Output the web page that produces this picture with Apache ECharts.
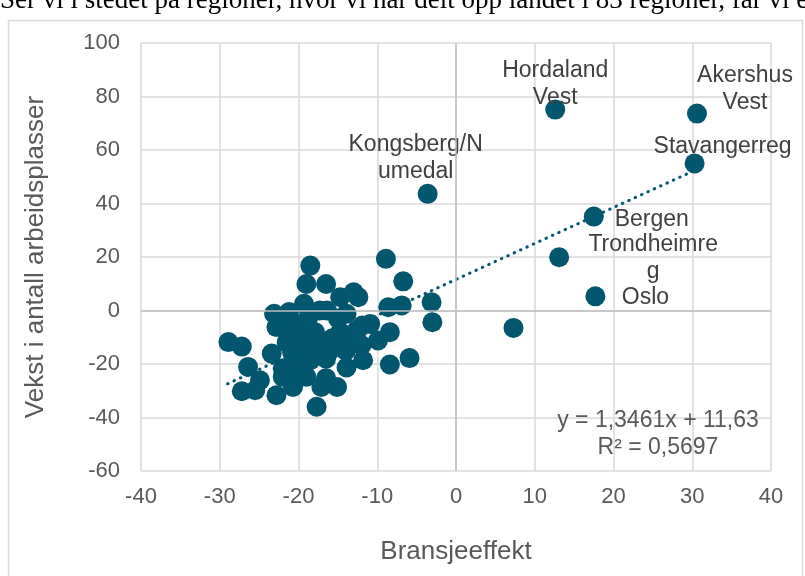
<!DOCTYPE html>
<html>
<head>
<meta charset="utf-8">
<script src="https://cdn.jsdelivr.net/npm/echarts@6/dist/echarts.min.js"></script>
<style>html,body{margin:0;padding:0;background:#fff;}#c{width:805px;height:576px;}</style>
</head>
<body>
<div id="c"></div>
<script>
// Unlabeled regions [Bransjeeffekt, Vekst]
const pointsX = [-28.9,-27.2,-26.4,-27.2,-25.5,-24.9,-23.4,-23.1,-22.8,-22.8,-22.0,-22.0,-21.2,-21.1,-21.3,-20.8,-20.7,-20.4,-20.4,-19.8,-19.0,-19.3,-19.0,-18.5,-18.8,-18.5,-18.5,-18.2,-17.7,-17.9,-17.8,-17.3,-17.1,-16.5,-16.4,-16.5,-16.0,-15.7,-15.1,-14.7,-14.7,-13.9,-13.9,-13.2,-13.0,-12.4,-12.6,-12.7,-11.8,-11.9,-10.9,-9.9,-8.9,-8.6,-8.4,-8.4,-6.9,-6.7,-5.9,-3.1,-3.0,7.3,-20.0,-19.5,-15.0,-14.0,-16.5,-12.0,-21.5,-19.5];
const pointsY = [-11.8,-13.5,-21.1,-30.2,-29.8,-26.1,-16.1,-1.2,-6.2,-31.7,-24.8,-21.6,-0.6,-5.6,-10.0,-15.6,-28.6,-22.3,-18.6,-13.4,-24.8,2.5,9.9,16.8,-3.0,-10.4,-18.6,-14.9,-36.0,-8.1,-11.5,0.0,-28.6,9.9,0.0,-25.3,-14.9,-10.4,-28.6,5.0,-8.1,-1.2,-21.3,-11.2,6.8,5.0,-7.4,-9.7,-18.6,-5.6,-5.0,-11.2,19.3,1.2,-8.1,-20.2,1.9,10.9,-17.8,3.1,-4.4,-6.5,-8.0,-5.0,-3.0,-15.0,-18.0,-13.0,-12.0,-20.0];
// Labeled regions
const labelNames = ["Kongsberg/N\numedal","Hordaland\nVest","Akershus\nVest","Stavangerreg","Bergen","Trondheimre\ng","Oslo"];
const labelX = [-3.6, 12.6, 30.6, 30.3, 17.5, 13.1, 17.7];
const labelY = [43.6, 75.1, 73.6, 55.0, 35.1, 19.9, 5.3];
// Trendline endpoints (y = 1,3461x + 11,63)
const trendX = [-29.0, 30.4];
const trendY = [-27.4, 52.5];
const xTicks = {min: -40, max: 40, interval: 10};
const yTicks = {min: -60, max: 100, interval: 20};

const labelOffsets = [[-12,-36],[0,-25],[48,-24],[28,-17],[58,3],[94,1],[50,1]];
const col = '#02566d';
const chart = echarts.init(document.getElementById('c'), null, {renderer: 'canvas'});
const ff = '"Liberation Sans", Arial, sans-serif';

const scatterData = pointsX.map((x, i) => [x, pointsY[i]]);
const labeledData = labelNames.map((n, i) => ({
  name: n,
  value: [labelX[i], labelY[i]],
  label: {show: true, position: 'inside', offset: labelOffsets[i], formatter: n,
          align: 'center', verticalAlign: 'middle', color: '#404040', fontSize: 23,
          fontFamily: ff, lineHeight: 27}
}));

chart.setOption({
  animation: false,
  backgroundColor: '#fff',
  graphic: [
    {type: 'rect', shape: {x: 8.5, y: 20.5, width: 794, height: 570}, style: {fill: 'none', stroke: '#d9d9d9', lineWidth: 1.5}, z: -10},
    {type: 'text', x: 0, y: 14, style: {text: 'Ser vi i stedet på regioner, hvor vi har delt opp landet i 83 regioner, får vi et', font: '27px "Liberation Serif", "Times New Roman", serif', fill: '#000', verticalAlign: 'bottom'}},
    {type: 'text', x: 658, y: 421, style: {text: 'y = 1,3461x + 11,63', font: '23px ' + ff, fill: '#595959', align: 'center', verticalAlign: 'middle'}, z: 10},
    {type: 'text', x: 658, y: 448, style: {text: 'R² = 0,5697', font: '23px ' + ff, fill: '#595959', align: 'center', verticalAlign: 'middle'}, z: 10}
  ],
  grid: {left: 141, right: 34, top: 43, bottom: 105, containLabel: false},
  xAxis: {
    type: 'value', min: xTicks.min, max: xTicks.max, interval: xTicks.interval,
    name: 'Bransjeeffekt', nameLocation: 'middle', nameGap: 68,
    nameTextStyle: {fontSize: 26, color: '#595959', fontFamily: ff},
    axisLine: {show: false}, axisTick: {show: false},
    axisLabel: {fontSize: 22, color: '#595959', fontFamily: ff, margin: 15},
    splitLine: {show: true, lineStyle: {color: '#d9d9d9', width: 1.5}}
  },
  yAxis: {
    type: 'value', min: yTicks.min, max: yTicks.max, interval: yTicks.interval,
    name: 'Vekst i antall arbeidsplasser', nameLocation: 'middle', nameGap: 92,
    nameTextStyle: {fontSize: 26, color: '#595959', fontFamily: ff},
    axisLine: {show: false}, axisTick: {show: false},
    axisLabel: {fontSize: 22, color: '#595959', fontFamily: ff, margin: 21},
    splitLine: {show: true, lineStyle: {color: '#d9d9d9', width: 1.5}}
  },
  series: [
    {
      type: 'line', data: trendX.map((x, i) => [x, trendY[i]]), symbol: 'none', z: 1,
      lineStyle: {color: col, width: 3, type: [0.5, 6.5], cap: 'round'},
      markLine: {silent: true, symbol: 'none', label: {show: false},
        lineStyle: {color: '#bfbfbf', width: 1.5, type: 'solid'},
        data: [{xAxis: 0}, {yAxis: 0}]}
    },
    {type: 'scatter', data: scatterData, symbolSize: 20, itemStyle: {color: col, opacity: 1}, z: 3},
    {type: 'scatter', data: labeledData, symbolSize: 20, itemStyle: {color: col, opacity: 1}, z: 3}
  ]
});
</script>
</body>
</html>
